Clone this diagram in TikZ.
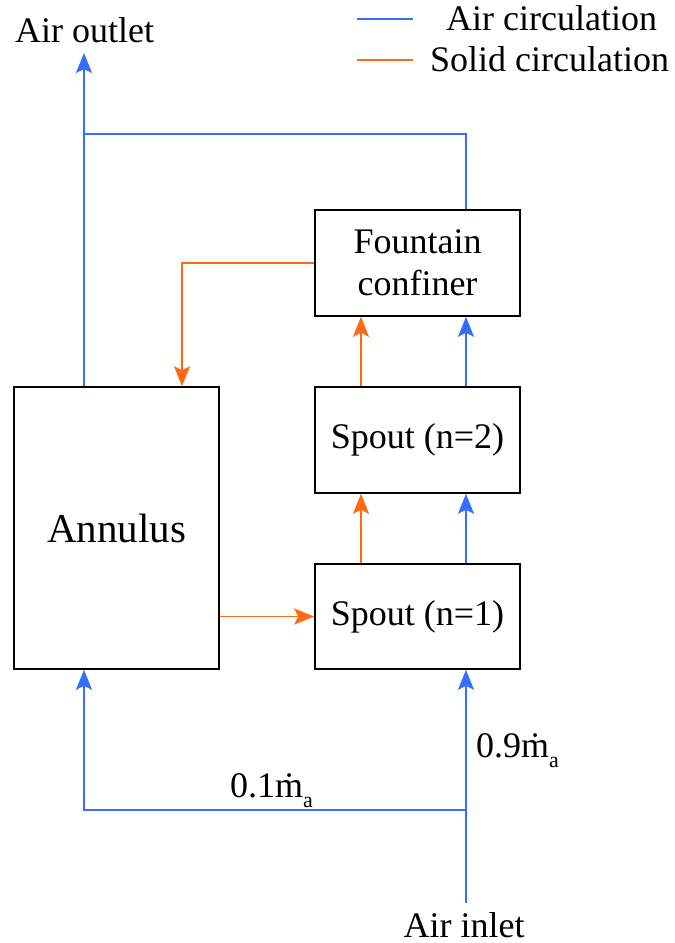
\documentclass[tikz,border=0pt]{standalone}
\usepackage{fontspec}
\setmainfont{Liberation Serif}
\usetikzlibrary{arrows.meta}
\definecolor{airblue}{RGB}{56,108,255}
\definecolor{solidorange}{RGB}{255,105,20}
\tikzset{
  box/.style={draw=black, line width=1.6pt, inner sep=0pt, align=center, font=\fontsize{36}{42}\selectfont},
  air/.style={draw=airblue, line width=1.8pt},
  solid/.style={draw=solidorange, line width=1.8pt},
  tip/.style={-{Stealth[length=20pt,width=16pt,inset=4pt]}},
  lbl/.style={inner sep=0pt, anchor=base west, font=\fontsize{36}{42}\selectfont},
}
\newcommand{\mdotsub}{\.{m}\raisebox{-0.28em}{\fontsize{22}{22}\selectfont a}}
\begin{document}
\begin{tikzpicture}[x=1pt,y=-1pt]
\useasboundingbox (0,0) rectangle (675,943);
% boxes
\node[box, minimum width=205pt, minimum height=282pt, font=\fontsize{41}{46}\selectfont] (an) at (116.5,528) {Annulus};
\node[box, minimum width=205pt, minimum height=105pt] (s1) at (417.5,616.5) {Spout (n=1)};
\node[box, minimum width=205pt, minimum height=106pt] (s2) at (417.5,440) {Spout (n=2)};
\node[box, minimum width=205pt, minimum height=106pt] (fc) at (417.5,263) {Fountain\\confiner};
% helper coordinates
\coordinate (bx) at (466,0);
\coordinate (ox) at (361,0);
\coordinate (ax) at (84,0);
\coordinate (rx) at (182,0);
\coordinate (inl) at (466,903);
\coordinate (j) at (466,810);
\coordinate (out) at (84,53);
\coordinate (top) at (84,134);
% air lines
\draw[air,tip] (inl) -- (s1.south -| inl);
\draw[air,tip] (j) -- (j -| ax) -- (an.south -| ax);
\draw[air,tip] (an.north -| ax) -- (out);
\draw[air] (top) -- (top -| bx) -- (fc.north -| bx);
\draw[air,tip] (s1.north -| bx) -- (s2.south -| bx);
\draw[air,tip] (s2.north -| bx) -- (fc.south -| bx);
% solid lines
\draw[solid,tip] (s1.north -| ox) -- (s2.south -| ox);
\draw[solid,tip] (s2.north -| ox) -- (fc.south -| ox);
\draw[solid,tip] (fc.west) -- (fc.west -| rx) -- (an.north -| rx);
\draw[solid,tip] (s1.west -| an.east) -- (s1.west);
% labels
\node[lbl] (ao) at (15,42) {Air outlet};
\node[lbl, anchor=base] (ai) at (464,937) {Air inlet};
\node[lbl] (l1) at (230,797) {0.1\mdotsub};
\node[lbl] (l9) at (476,757) {0.9\mdotsub};
% legend
\coordinate (la1) at (357,19);
\coordinate (la2) at (413,19);
\coordinate (lb1) at (357,60);
\coordinate (lb2) at (413,60);
\draw[air] (la1) -- (la2);
\draw[solid] (lb1) -- (lb2);
\node[lbl] (lt1) at (446,30) {Air circulation};
\node[lbl] (lt2) at (430,71) {Solid circulation};
\end{tikzpicture}
\end{document}
